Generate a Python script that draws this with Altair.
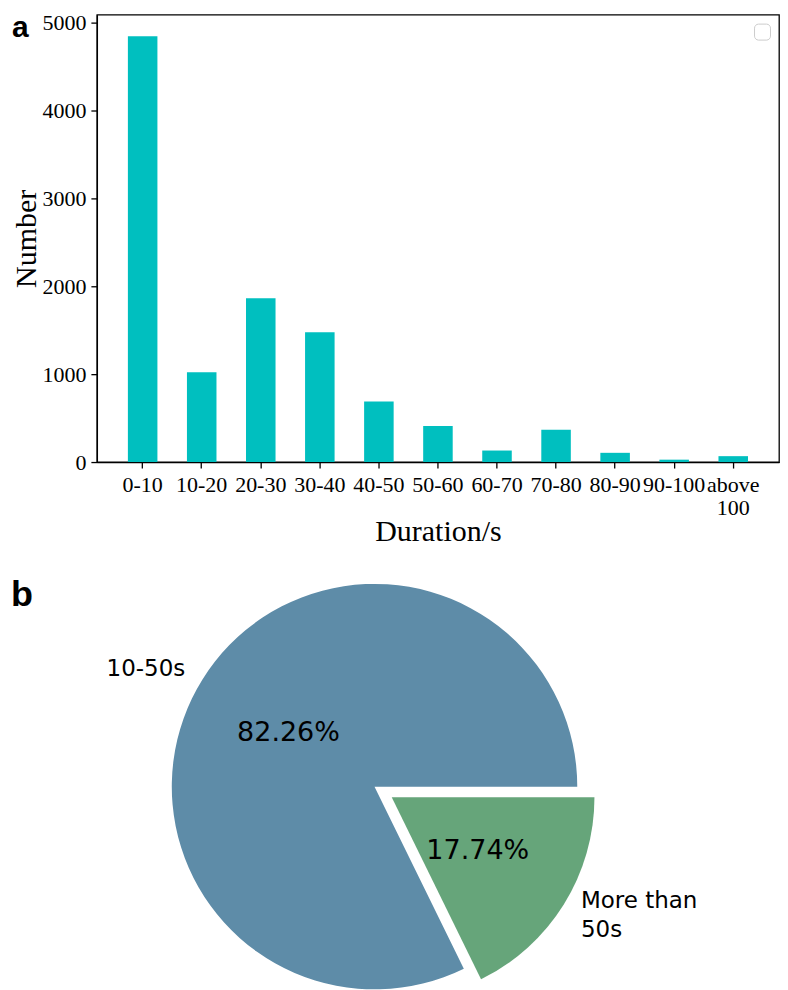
import math
import altair as alt
import pandas as pd

# ---------------- data ----------------
categories = ["0-10", "10-20", "20-30", "30-40", "40-50", "50-60",
              "60-70", "70-80", "80-90", "90-100", "above 100"]
counts = [4842, 1020, 1863, 1475, 688, 411, 131, 367, 105, 27, 67]
y_ticks = [0, 1000, 2000, 3000, 4000, 5000]

pie_keys = ["more", "mid"]
pie_labels = ["More than\n50s", "10-50s"]
pie_pcts = [17.74, 82.26]
pie_colors = ["#66A57A", "#5E8CA8"]

# ---------------- bar panel ----------------
bar_df = pd.DataFrame({"cat": categories, "n": counts, "series": [""] * len(categories)})

SERIF = "Liberation Serif"

bars = alt.Chart(bar_df).mark_bar().encode(
    x=alt.X("cat:N", sort=categories,
            scale=alt.Scale(paddingInner=0.5, paddingOuter=0.525),
            axis=alt.Axis(title="Duration/s", labelAngle=0,
                          labelExpr="split(datum.label, ' ')",
                          labelOverlap=False, labelFont=SERIF, labelFontSize=22,
                          labelLineHeight=23.5, labelPadding=6, labelColor="black",
                          titleFont=SERIF, titleFontSize=30, titleFontWeight="normal",
                          titleColor="black", titlePadding=-2,
                          tickSize=6, tickWidth=1.3, tickColor="black",
                          domainColor="black", domainWidth=1.3)),
    y=alt.Y("n:Q", scale=alt.Scale(domain=[0, 5089], nice=False),
            axis=alt.Axis(title="Number", values=y_ticks, grid=False, format="d",
                          labelFont=SERIF, labelFontSize=22, labelPadding=5,
                          labelColor="black",
                          titleFont=SERIF, titleFontSize=30, titleFontWeight="normal",
                          titleColor="black", titlePadding=0,
                          tickSize=6, tickWidth=1.3, tickColor="black",
                          domainColor="black", domainWidth=1.3)),
    color=alt.Color("series:N", scale=alt.Scale(range=["#00BFBF"]),
                    legend=alt.Legend(title=None, orient="top-right", offset=9,
                                      labelExpr="''", symbolOpacity=0, symbolSize=40,
                                      labelFontSize=1, labelOffset=0,
                                      strokeColor="#cccccc", cornerRadius=4,
                                      padding=4, fillColor="white")),
).properties(
    width=683, height=448,
    view=alt.ViewBackground(stroke="black", strokeWidth=1.3),
    title=alt.TitleParams("a", anchor="start", frame="bounds",
                          font="Liberation Sans", fontSize=30, fontWeight="bold",
                          color="black", offset=-32),
)

# ---------------- pie panel ----------------
pie_df = pd.DataFrame({"key": pie_keys, "label": pie_labels, "pct": pie_pcts})
pie_df["end"] = pie_df["pct"].cumsum()
pie_df["start"] = pie_df["end"] - pie_df["pct"]
pie_df["mid"] = (pie_df["start"] + pie_df["end"]) / 2
pie_df["pct_text"] = [f"{p:.2f}%" for p in pie_pcts]

R = 203
LINE_H = 29
theta_scale = alt.Scale(domain=[0, 100], range=[math.pi / 2, math.pi / 2 + 2 * math.pi])
base = alt.Chart(pie_df)
arc_enc = dict(theta=alt.Theta("start:Q", scale=theta_scale, stack=None), theta2="end:Q")
mid_theta = alt.Theta("mid:Q", scale=theta_scale, stack=None)

# explode offset of the small wedge (0.1 * radius along its bisector)
bis = math.radians(90 + pie_pcts[0] / 100 * 360 / 2)  # vega angle from 12 o'clock
ex_dx = 0.1 * R * math.sin(bis)
ex_dy = -0.1 * R * math.cos(bis)

main_arc = base.transform_filter(alt.datum.key == "mid").mark_arc(
    radius=R, color=pie_colors[1]).encode(**arc_enc)
main_lab = base.transform_filter(alt.datum.key == "mid").mark_text(
    radius=1.1 * R, align="right", baseline="middle", font="DejaVu Sans",
    fontSize=23, color="black").encode(theta=mid_theta, text="label:N")
main_pct = base.transform_filter(alt.datum.key == "mid").mark_text(
    radius=0.5 * R, align="center", baseline="middle", font="DejaVu Sans",
    fontSize=27, color="black").encode(theta=mid_theta, text="pct_text:N")

sm_arc = base.transform_filter(alt.datum.key == "more").mark_arc(
    radius=R, color=pie_colors[0], xOffset=ex_dx, yOffset=ex_dy).encode(**arc_enc)
sm_lab = base.transform_filter(alt.datum.key == "more").mark_text(
    radius=1.1 * R, align="left", baseline="middle", font="DejaVu Sans",
    fontSize=23, lineHeight=LINE_H, lineBreak="\n", color="black",
    dx=ex_dx, dy=ex_dy - LINE_H / 2).encode(theta=mid_theta, text="label:N")
sm_pct = base.transform_filter(alt.datum.key == "more").mark_text(
    radius=0.5 * R, align="center", baseline="middle", font="DejaVu Sans",
    fontSize=27, color="black", dx=ex_dx, dy=ex_dy).encode(theta=mid_theta, text="pct_text:N")

pie = alt.layer(main_arc, sm_arc, main_lab, main_pct, sm_lab, sm_pct).properties(
    width=556, height=406,
    title=alt.TitleParams("b", anchor="start", frame="group",
                          font="Liberation Sans", fontSize=36, fontWeight="bold",
                          color="black", dx=-86, offset=-30),
)

chart = alt.vconcat(bars, pie, spacing=29).resolve_scale(
    color="independent"
).properties(
    padding={"left": 3, "top": 2, "right": 0, "bottom": 0}
).configure_view(strokeWidth=0)

chart.save("out.html", embed_options={"renderer": "svg", "actions": False})
